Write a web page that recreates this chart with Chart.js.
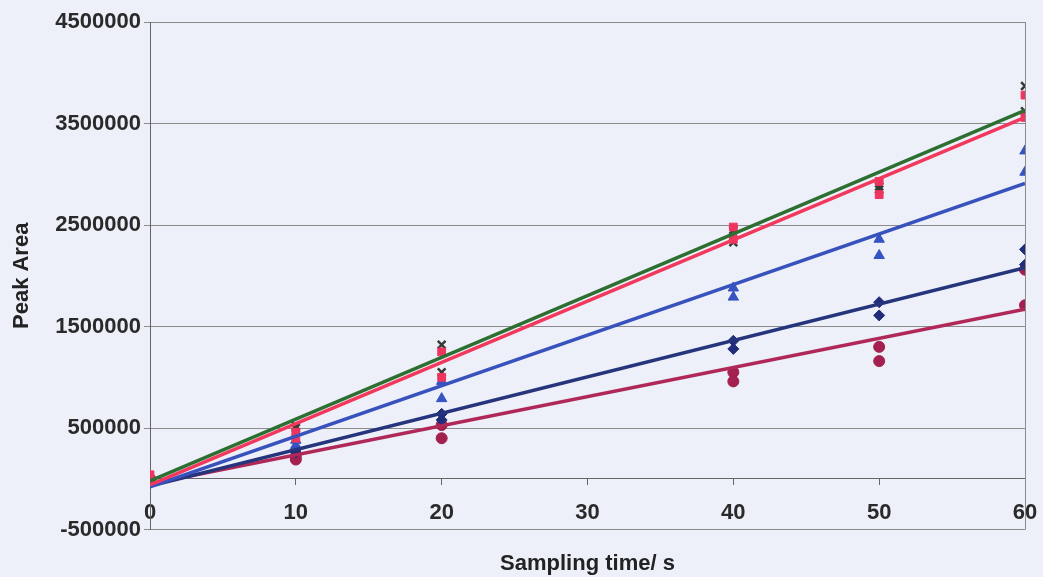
<!DOCTYPE html>
<html>
<head>
<meta charset="utf-8">
<title>Peak Area vs Sampling time</title>
<script src="https://cdn.jsdelivr.net/npm/chart.js@4.4.1/dist/chart.umd.min.js"></script>
<style>
    html, body { margin: 0; padding: 0; background: #edeff9; }
    #contenedor { width: 1043px; height: 577px; position: relative; }
</style>
</head>
<body>
<div id="contenedor"><canvas id="grafico"></canvas></div>
<script>
// --- DATOS ---
// tiempos de muestreo (s), dos replicas por punto
const tiempos = [0, 10, 20, 40, 50, 60];

const verdeA   = [0, 520000, 1320000, 2450000, 2880000, 3870000];
const verdeB   = [0, 500000, 1050000, 2330000, 2850000, 3620000];
const rojoA    = [40000, 460000, 1250000, 2480000, 2930000, 3780000];
const rojoB    = [0, 400000, 1000000, 2360000, 2800000, 3560000];
const azulA    = [0, 380000, 960000, 1880000, 2360000, 3230000];
const azulB    = [0, 330000, 790000, 1790000, 2200000, 3020000];
const marinoA  = [0, 290000, 640000, 1360000, 1740000, 2260000];
const marinoB  = [0, 260000, 580000, 1280000, 1610000, 2110000];
const granateA = [0, 220000, 530000, 1050000, 1300000, 2060000];
const granateB = [0, 190000, 400000, 960000, 1160000, 1710000];

// lineas de tendencia: valor en t = 0 y t = 60
const tendX       = [0, 60];
const tendVerde   = [-20000, 3630000];
const tendRojo    = [-60000, 3560000];
const tendAzul    = [-80000, 2910000];
const tendMarino  = [-70000, 2080000];
const tendGranate = [-50000, 1670000];

const ticksY = [-500000, 500000, 1500000, 2500000, 3500000, 4500000];

document.addEventListener('DOMContentLoaded', () => {
    const FONDO = '#edeff9';
    const REJILLA = '#8c8c8c';

    // --- 1. PUNTOS ---
    function puntos(a, b) {
        const out = [];
        tiempos.forEach((t, i) => {
            out.push({ x: t, y: a[i] });
            out.push({ x: t, y: b[i] });
        });
        return out;
    }

    function serie(a, b, forma, color, radio) {
        return {
            type: 'scatter',
            data: puntos(a, b),
            pointStyle: forma,
            pointRadius: radio,
            pointBackgroundColor: color,
            pointBorderColor: color,
            pointBorderWidth: forma === 'crossRot' ? 2.5 : 1,
            showLine: false,
            order: 1
        };
    }

    function tendencia(valores, color) {
        return {
            type: 'line',
            data: tendX.map((x, i) => ({ x: x, y: valores[i] })),
            borderColor: color,
            borderWidth: 3.5,
            pointRadius: 0,
            fill: false,
            order: 0
        };
    }

    // --- 2. FONDO Y MARCO ---
    const marco = {
        id: 'marco',
        beforeDraw(chart) {
            const c = chart.ctx;
            c.save();
            c.fillStyle = FONDO;
            c.fillRect(0, 0, chart.width, chart.height);
            c.restore();
        },
        beforeDatasetsDraw(chart) {
            const { ctx, chartArea } = chart;
            ctx.save();
            ctx.strokeStyle = REJILLA;
            ctx.lineWidth = 1;
            ctx.beginPath();
            ctx.moveTo(Math.round(chartArea.right) + 0.5, chartArea.top);
            ctx.lineTo(Math.round(chartArea.right) + 0.5, chartArea.bottom);
            ctx.stroke();
            ctx.restore();
        }
    };

    const fuente = { family: '"Liberation Sans", Arial, sans-serif', weight: 'bold' };

    new Chart(document.getElementById('grafico'), {
        type: 'scatter',
        data: {
            datasets: [
                serie(rojoA, rojoB, 'rect', '#ee3560', 5.5),
                serie(verdeA, verdeB, 'crossRot', '#353a35', 5.5),
                serie(azulA, azulB, 'triangle', '#3553c2', 6),
                serie(marinoA, marinoB, 'rectRot', '#1f2d7a', 5.5),
                serie(granateA, granateB, 'circle', '#a3204f', 5.5),
                tendencia(tendVerde, '#2c6f30'),
                tendencia(tendRojo, '#f2385c'),
                tendencia(tendAzul, '#3852bd'),
                tendencia(tendMarino, '#26347c'),
                tendencia(tendGranate, '#b02857')
            ]
        },
        options: {
            responsive: true,
            maintainAspectRatio: false,
            animation: false,
            layout: { padding: { top: 22, right: 18, left: 0, bottom: 0 } },
            plugins: {
                legend: { display: false },
                tooltip: { enabled: false },
                title: {
                    display: true,
                    position: 'bottom',
                    fullSize: false,
                    text: 'Sampling time/ s',
                    color: '#222',
                    font: { ...fuente, size: 22 },
                    padding: { top: 21, bottom: 0 }
                }
            },
            scales: {
                x: {
                    type: 'linear',
                    position: { y: 0 },
                    min: 0,
                    max: 60,
                    afterFit: (eje) => { eje.paddingRight = 0; eje.paddingLeft = 0; },
                    ticks: {
                        stepSize: 10,
                        color: '#2a2a2a',
                        font: { ...fuente, size: 22 },
                        padding: 15,
                        maxRotation: 0
                    },
                    grid: { drawOnChartArea: false, drawTicks: true, tickLength: 6, color: '#666' },
                    border: { display: true, color: '#666', width: 1 }
                },
                y: {
                    min: ticksY[0],
                    max: ticksY[ticksY.length - 1],
                    afterBuildTicks: (eje) => { eje.ticks = ticksY.map(v => ({ value: v })); },
                    afterFit: (eje) => { eje.width = 150; },
                    ticks: {
                        color: '#2a2a2a',
                        font: { ...fuente, size: 22 },
                        padding: 3,
                        callback: (v) => String(v)
                    },
                    grid: { color: REJILLA, tickLength: 6 },
                    border: { display: true, color: '#666', width: 1 },
                    title: {
                        display: true,
                        text: 'Peak Area',
                        color: '#222',
                        font: { ...fuente, size: 22 },
                        padding: { top: 9, bottom: 2 }
                    }
                }
            }
        },
        plugins: [marco]
    });
});
</script>
</body>
</html>
